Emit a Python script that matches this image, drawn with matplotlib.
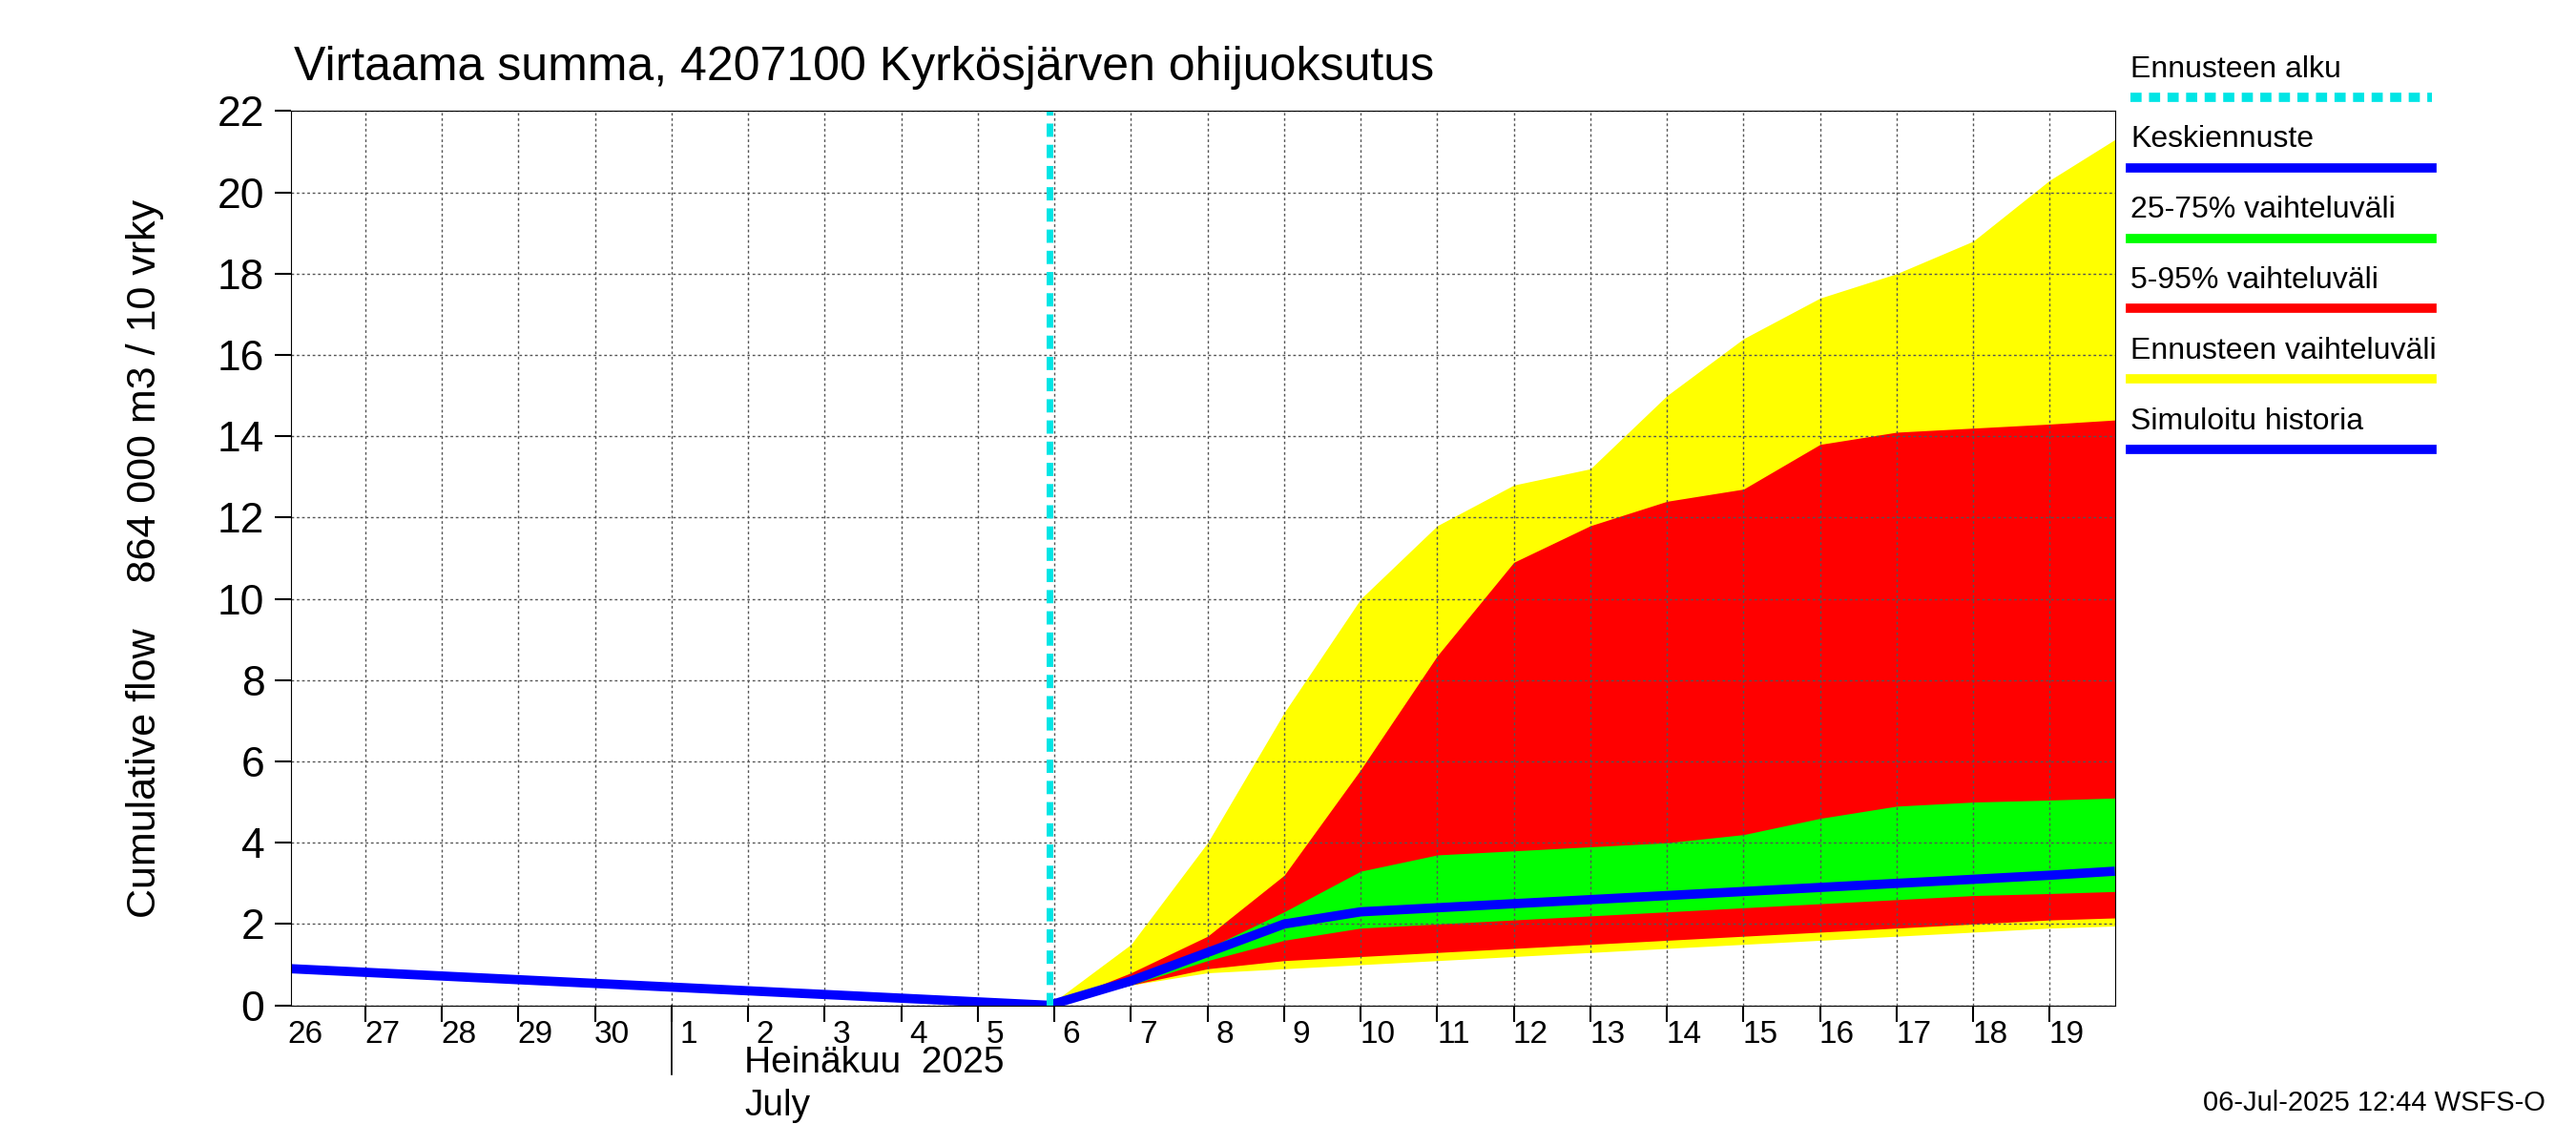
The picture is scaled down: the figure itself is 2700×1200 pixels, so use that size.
import matplotlib
matplotlib.use("Agg")
import matplotlib.pyplot as plt
from matplotlib.lines import Line2D

plt.rcParams["font.family"] = "Liberation Sans"

# x in days since 26 June 2025 00:00
hist_x = [0.03, 9.93]
hist_y = [0.9, 0.0]
fc_x = [9.93, 11, 12, 13, 14, 15, 16, 17, 18, 19, 20, 21, 22, 23, 23.85]
yel_hi = [0, 1.5, 4.0, 7.2, 10.0, 11.8, 12.8, 13.2, 15.0, 16.4, 17.4, 18.0, 18.8, 20.3, 21.3]
yel_lo = [0, 0.5, 0.8, 0.9, 1.0, 1.1, 1.2, 1.3, 1.4, 1.5, 1.6, 1.7, 1.8, 1.9, 1.95]
red_hi = [0, 0.8, 1.7, 3.2, 5.8, 8.6, 10.9, 11.8, 12.4, 12.7, 13.8, 14.1, 14.2, 14.3, 14.4]
red_lo = [0, 0.5, 0.9, 1.1, 1.2, 1.3, 1.4, 1.5, 1.6, 1.7, 1.8, 1.9, 2.0, 2.1, 2.15]
grn_hi = [0, 0.6, 1.4, 2.3, 3.3, 3.7, 3.8, 3.9, 4.0, 4.2, 4.6, 4.9, 5.0, 5.05, 5.1]
grn_lo = [0, 0.5, 1.1, 1.6, 1.9, 2.0, 2.1, 2.2, 2.3, 2.4, 2.5, 2.6, 2.7, 2.75, 2.8]
mean_y = [0, 0.6, 1.3, 2.0, 2.3, 2.4, 2.5, 2.6, 2.7, 2.8, 2.9, 3.0, 3.1, 3.2, 3.3]
day_labels = ["26", "27", "28", "29", "30", "1", "2", "3", "4", "5", "6", "7", "8", "9",
              "10", "11", "12", "13", "14", "15", "16", "17", "18", "19"]
y_ticks = [0, 2, 4, 6, 8, 10, 12, 14, 16, 18, 20, 22]

fig = plt.figure(figsize=(27, 12), dpi=100)
ax = fig.add_axes([0.113, 0.122, 0.708, 0.781])
ax.fill_between(fc_x, yel_lo, yel_hi, color="#ffff00", lw=0)
ax.fill_between(fc_x, red_lo, red_hi, color="#ff0000", lw=0)
ax.fill_between(fc_x, grn_lo, grn_hi, color="#00ff00", lw=0)
ax.plot(hist_x, hist_y, color="#0000ff", lw=7, solid_capstyle="butt")
ax.plot(fc_x, mean_y, color="#0000ff", lw=7, solid_capstyle="butt")
ax.axvline(9.93, color="#00e5e5", lw=5, ls=(0, (2, 1.2)))
ax.set_xlim(0.03, 23.85)
ax.set_ylim(0, 22)
ax.set_yticks(y_ticks)
ax.set_yticklabels([str(v) for v in y_ticks], fontsize=32)
ax.set_xticks(range(1, 24))
ax.set_xticklabels([])
ax.tick_params(axis="x", length=12, width=1.5)
ax.tick_params(axis="y", length=12, width=1.5, pad=8)
ax.grid(True, color="#555555", ls=(0, (2, 2)), lw=1)
for i, lab in enumerate(day_labels):
    ax.text(i + 0.22, -0.35, lab, ha="center", va="top", fontsize=24)
ax.plot([5, 5], [0, -1.7], color="black", lw=1.2, clip_on=False)
ax.text(5.95, -1.0, "Heinäkuu  2025", ha="left", va="top", fontsize=28)
ax.text(5.95, -2.05, "July", ha="left", va="top", fontsize=28)
ax.set_ylabel("Cumulative flow    864 000 m3 / 10 vrky", fontsize=31, labelpad=40)
fig.text(0.114, 0.922, "Virtaama summa, 4207100 Kyrkösjärven ohijuoksutus", fontsize=36, va="bottom")

leg = [("Ennusteen alku", "#00e5e5", (0, (1.2, 0.8))), ("Keskiennuste", "#0000ff", "-"),
       ("25-75% vaihteluväli", "#00ff00", "-"), ("5-95% vaihteluväli", "#ff0000", "-"),
       ("Ennusteen vaihteluväli", "#ffff00", "-"), ("Simuloitu historia", "#0000ff", "-")]
for i, (t, c, s) in enumerate(leg):
    yy = 0.915 - i * 0.0615
    fig.text(0.827, yy + 0.012, t, fontsize=23, va="bottom")
    fig.add_artist(Line2D([0.827, 0.944], [yy, yy], color=c, lw=7, ls=s, transform=fig.transFigure))
fig.text(0.988, 0.03, "06-Jul-2025 12:44 WSFS-O", fontsize=21, ha="right")
fig.savefig("out.png", dpi=100)
